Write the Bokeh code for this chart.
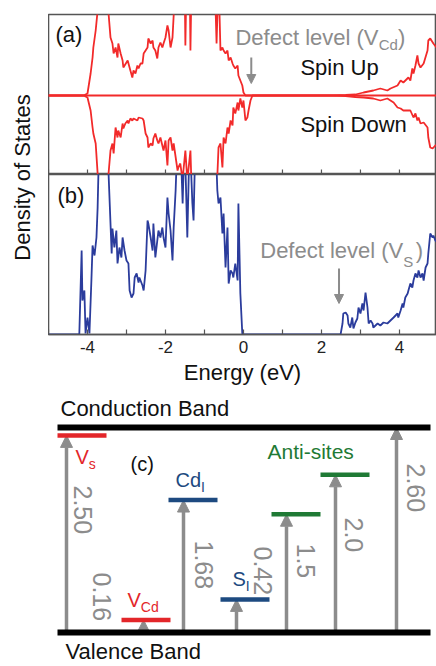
import math
from bokeh.plotting import figure
from bokeh.layouts import column, row
from bokeh.models import Range1d, Span, Arrow, NormalHead, FixedTicker, ColumnDataSource
from bokeh.core.properties import value
from bokeh.embed import file_html
from bokeh.resources import INLINE

FONT = value("Liberation Sans")
RED = "#f22a2a"
BLUE = "#2b3c9c"
FRAME = "#555555"
GRAY = "#8c8c8c"
LVL_RED = "#e3262a"
LVL_NAVY = "#1d4a80"
LVL_GREEN = "#1f7a35"

# ---------------- (a) spin-resolved DOS with a Cd vacancy ----------------
energy_up = [
    -5.0, -4.08, -4.05, -4.0, -3.92, -3.87, -3.85, -3.79, -3.74, -3.67,
    -3.54, -3.46, -3.41, -3.36, -3.33, -3.28, -3.23, -3.21, -3.15, -3.10,
    -3.08, -2.97, -2.90, -2.85, -2.82, -2.77, -2.72, -2.69, -2.64, -2.59,
    -2.56, -2.46, -2.44, -2.38, -2.33, -2.31, -2.26, -2.21, -2.18, -2.13,
    -2.08, -2.05, -2.00, -1.95, -1.92, -1.87, -1.82, -1.79, -1.74, -1.51,
    -1.49, -1.46, -1.38, -1.36, -1.33, -0.74, -0.69, -0.64, -0.59, -0.54,
    -0.51, -0.46, -0.41, -0.38, -0.33, -0.28, -0.26, -0.21, -0.15, -0.13,
    -0.08, -0.03, 0.0, 0.05, 2.31, 2.62, 2.87, 3.08, 3.33, 3.51,
    3.69, 3.77, 3.95, 4.03, 4.10, 4.23, 4.28, 4.33, 4.36, 4.41,
    4.46, 4.49, 4.54, 4.62, 4.72, 4.74, 4.79, 4.87, 4.95, 5.05,
]
dos_up = [
    0, 0, 0.1, 0.2, 2.2, 3.8, 4.8, 6.5, 8.5, 12,
    12, 8.2, 5.8, 5.2, 4.2, 4.8, 3.8, 5.2, 4.2, 3.5,
    2.8, 3.5, 2.5, 1.8, 2.5, 2.2, 3.0, 2.7, 3.2, 3.2,
    4.2, 4.8, 5.7, 5.2, 5.5, 4.8, 4.5, 3.7, 4.8, 5.3,
    4.8, 5.2, 5.8, 7.0, 6.5, 4.8, 5.8, 8.0, 12, 12,
    5.0, 12, 12, 4.5, 12, 12, 5.2, 12, 4.5, 4.8,
    4.5, 4.2, 4.5, 3.5, 3.8, 3.2, 3.0, 2.7, 3.0, 2.0,
    1.5, 1.0, 0.3, 0, 0, 0.05, 0.1, 0.3, 0.5, 0.7,
    0.5, 0.7, 1.0, 1.5, 1.3, 1.8, 1.5, 2.7, 2.2, 3.0,
    4.0, 3.2, 2.8, 3.2, 4.5, 5.5, 5.7, 5.2, 4.8, 4.5,
]
energy_down = [
    -5.0, -4.08, -4.05, -4.0, -3.92, -3.87, -3.85, -3.79, -3.74, -3.67,
    -3.54, -3.46, -3.41, -3.36, -3.33, -3.28, -3.23, -3.21, -3.15, -3.10,
    -3.08, -3.03, -2.97, -2.95, -2.90, -2.85, -2.82, -2.72, -2.69, -2.59,
    -2.56, -2.51, -2.46, -2.44, -2.38, -2.33, -2.31, -2.26, -2.21, -2.18,
    -2.13, -2.05, -2.00, -1.95, -1.92, -1.87, -1.82, -1.79, -1.69, -1.67,
    -1.62, -1.56, -1.54, -1.49, -1.44, -1.36, -1.31, -0.72, -0.67, -0.64,
    -0.59, -0.54, -0.51, -0.46, -0.41, -0.38, -0.33, -0.28, -0.26, -0.21,
    -0.15, -0.13, -0.08, -0.03, 0.0, 0.05, 0.10, 0.13, 0.18, 0.23,
    2.31, 2.62, 2.87, 3.08, 3.33, 3.51, 3.69, 3.85, 3.95, 4.03,
    4.10, 4.28, 4.36, 4.41, 4.46, 4.49, 4.54, 4.62, 4.72, 4.74,
    4.79, 4.85, 4.92, 5.05,
]
dos_down = [
    0, 0, -0.1, -0.2, -1.5, -3.2, -3.8, -4.8, -7.8, -12,
    -12, -7.8, -5.5, -4.8, -5.8, -3.2, -4.2, -3.5, -4.2, -2.8,
    -3.3, -2.8, -2.5, -2.8, -2.3, -2.5, -2.3, -2.5, -2.2, -2.3,
    -2.5, -3.8, -4.2, -5.2, -4.8, -5.0, -4.3, -3.8, -4.5, -4.8,
    -4.2, -5.5, -4.5, -7.0, -4.5, -4.2, -5.5, -4.8, -7.5, -7.2,
    -6.8, -8.5, -7.5, -5.5, -8.5, -5.5, -12, -12, -8.0, -5.2,
    -4.8, -7.2, -4.2, -4.8, -3.2, -3.8, -2.5, -3.0, -1.2, -1.8,
    -0.7, -1.5, -0.3, -1.2, -0.5, -2.5, -2.2, -1.5, -0.5, 0,
    0, -0.05, -0.15, -0.2, -0.3, -0.5, -0.3, -0.7, -1.2, -1.3,
    -1.5, -1.5, -2.2, -1.8, -2.5, -2.2, -2.8, -2.7, -3.2, -4.2,
    -5.2, -5.3, -5.0, -4.8,
]
vcd_defect_energy = 0.2

# ---------------- (b) DOS with an S vacancy ----------------
energy_vs = [
    -5.0, -4.21, -4.15, -4.13, -4.08, -4.05, -4.0, -3.95, -3.90, -3.87,
    -3.82, -3.77, -3.74, -3.72, -3.67, -3.51, -3.46, -3.38, -3.36, -3.31,
    -3.26, -3.23, -3.18, -3.13, -3.10, -3.05, -3.00, -2.95, -2.92, -2.87,
    -2.82, -2.79, -2.74, -2.69, -2.67, -2.59, -2.56, -2.51, -2.46, -2.44,
    -2.38, -2.33, -2.31, -2.26, -2.21, -2.18, -2.13, -2.08, -2.05, -2.00,
    -1.95, -1.92, -1.87, -1.82, -1.79, -1.74, -1.69, -1.62, -1.56, -1.51,
    -1.44, -1.38, -1.31, -1.28, -1.23, -0.72, -0.67, -0.64, -0.59, -0.54,
    -0.51, -0.46, -0.41, -0.38, -0.33, -0.28, -0.26, -0.21, -0.15, -0.13,
    -0.08, -0.03, 0.0, 2.49, 2.54, 2.56, 2.62, 2.67, 2.69, 2.74,
    2.79, 2.82, 2.87, 2.92, 2.95, 3.00, 3.05, 3.08, 3.13, 3.18,
    3.21, 3.26, 3.31, 3.33, 3.44, 3.51, 3.59, 3.69, 3.77, 3.85,
    3.95, 3.97, 4.03, 4.08, 4.10, 4.15, 4.21, 4.23, 4.28, 4.33,
    4.36, 4.41, 4.46, 4.49, 4.54, 4.59, 4.62, 4.67, 4.72, 4.74,
    4.79, 4.85, 4.87, 4.92, 5.05,
]
dos_vs = [
    0, 0, 8.4, 3.4, 4.4, 0.1, 1.7, 0.1, 5.4, 8.9,
    7.9, 9.7, 12.7, 16.1, 20, 20, 16.1, 8.1, 10.6, 8.7,
    10.4, 7.1, 8.7, 7.7, 9.7, 8.4, 7.4, 7.1, 4.4, 3.7,
    4.1, 5.7, 6.1, 5.2, 5.7, 4.9, 4.4, 6.4, 11.4, 11.1,
    9.7, 8.4, 11.1, 7.7, 9.4, 10.4, 9.7, 10.7, 9.7, 8.7,
    13.7, 12.1, 10.4, 7.4, 10.7, 14.4, 20, 20, 13.1, 20,
    9.7, 20, 13.1, 11.4, 20, 20, 14.4, 13.1, 13.7, 10.1,
    12.1, 6.7, 10.7, 5.1, 6.4, 6.1, 5.7, 7.1, 5.4, 13.1,
    4.1, 0.1, 0, 0, 1.1, 2.1, 2.2, 1.9, 1.1, 0.7,
    1.7, 0.6, 1.2, 1.6, 2.7, 2.1, 3.1, 2.4, 4.2, 2.7,
    1.1, 1.4, 1.1, 0.7, 1.1, 0.9, 1.2, 1.1, 1.4, 1.7,
    2.1, 1.7, 2.4, 3.1, 2.7, 3.7, 4.1, 4.4, 5.1, 4.7,
    5.4, 6.1, 5.7, 6.4, 5.7, 6.1, 5.4, 6.7, 7.1, 8.1,
    10.1, 9.7, 9.9, 9.4, 9.0,
]
vs_defect_energy = 2.45

major_ticks = [-4, -2, 0, 2, 4]
minor_ticks = [-5, -3, -1, 1, 3, 5]

# ---------------- (c) defect levels above the valence band (eV) ----------------
band_gap = 2.60
defect_names = ["V", "V", "Cd", "S", "", ""]
defect_subs = ["s", "Cd", "I", "I", "", ""]
defect_levels = [2.50, 0.16, 1.68, 0.42, 1.5, 2.0]
defect_colors = [LVL_RED, LVL_RED, LVL_NAVY, LVL_NAVY, LVL_GREEN, LVL_GREEN]
level_labels = ["2.50", "0.16", "1.68", "0.42", "1.5", "2.0"]


def energy_axis(ax):
    ax.ticker = FixedTicker(ticks=major_ticks, minor_ticks=minor_ticks)
    ax.axis_line_color = FRAME
    ax.axis_line_width = 1.6
    ax.major_tick_in = 5
    ax.major_tick_out = 0
    ax.minor_tick_in = 5
    ax.minor_tick_out = 0
    ax.major_tick_line_color = FRAME
    ax.minor_tick_line_color = FRAME
    ax.major_tick_line_width = 1.2
    ax.minor_tick_line_width = 1.2
    ax.major_label_overrides = {t: str(t) for t in major_ticks}
    ax.major_label_text_font = "Liberation Sans"
    ax.major_label_text_font_size = "17px"
    ax.major_label_text_color = "#222222"
    ax.major_label_standoff = 6
    ax.axis_label = "Energy (eV)"
    ax.axis_label_text_font = "Liberation Sans"
    ax.axis_label_text_font_size = "22px"
    ax.axis_label_text_font_style = "normal"
    ax.axis_label_text_color = "#111111"
    ax.axis_label_standoff = 4


def txt(p, x, y, s, color, size, align="left", angle=0.0):
    p.text(x=[x], y=[y], text=[s], text_color=color, text_font=FONT,
           text_font_size=size, text_align=align, text_baseline="middle", angle=angle)


# panel (a): spin up above, spin down mirrored below the zero line
pa = figure(width=388, height=174, x_range=Range1d(-5, 4.95), y_range=Range1d(-7.9, 8.1),
            output_backend="svg", toolbar_location=None, x_axis_location=None,
            y_axis_location=None, min_border_left=0, min_border_right=0,
            min_border_top=14, min_border_bottom=0)
pa.grid.visible = False
pa.outline_line_color = FRAME
pa.outline_line_width = 1.6
# inward tick marks along the shared energy edge
tick_pos = major_ticks + minor_ticks
pa.segment(x0=tick_pos, x1=tick_pos, y0=[pa.y_range.start] * len(tick_pos),
           y1=[pa.y_range.start + 0.5] * len(tick_pos), line_color=FRAME, line_width=1.2)
pa.add_layout(Span(location=0, dimension="width", line_color=RED, line_width=1.8))
pa.line(energy_up, dos_up, line_color=RED, line_width=1.8)
pa.line(energy_down, dos_down, line_color=RED, line_width=1.8)
txt(pa, -4.82, 6.1, "(a)", "#111111", "22px")
txt(pa, -0.205, 5.8, "Defect level (V", GRAY, "22px")
txt(pa, 3.47, 5.1, "Cd", GRAY, "15px")
txt(pa, 3.96, 5.8, ")", GRAY, "22px")
txt(pa, 1.46, 2.8, "Spin Up", "#111111", "22px")
txt(pa, 1.46, -2.9, "Spin Down", "#111111", "22px")
pa.add_layout(Arrow(end=NormalHead(size=9, fill_color=GRAY, line_color=GRAY),
                    x_start=vcd_defect_energy, y_start=3.8, x_end=vcd_defect_energy, y_end=1.2,
                    line_color=GRAY, line_width=2))

# panel (b)
pb = figure(width=388, height=221, x_range=Range1d(-5, 4.95), y_range=Range1d(0, 16),
            output_backend="svg", toolbar_location=None, y_axis_location=None,
            min_border_left=0, min_border_right=0, min_border_top=0, min_border_bottom=61)
pb.grid.visible = False
pb.outline_line_color = FRAME
pb.outline_line_width = 1.6
energy_axis(pb.xaxis[0])
pb.line(energy_vs, dos_vs, line_color=BLUE, line_width=1.8)
txt(pb, -4.77, 13.9, "(b)", "#111111", "22px")
txt(pb, 0.43, 8.4, "Defect level (V", GRAY, "22px")
txt(pb, 4.1, 7.3, "S", GRAY, "15px")
txt(pb, 4.42, 8.4, ")", GRAY, "22px")
pb.add_layout(Arrow(end=NormalHead(size=9, fill_color=GRAY, line_color=GRAY),
                    x_start=vs_defect_energy, y_start=6.6, x_end=vs_defect_energy, y_end=3.1,
                    line_color=GRAY, line_width=2))

# shared y-axis title
pl = figure(width=48, height=395, x_range=Range1d(0, 48), y_range=Range1d(0, 395),
            output_backend="svg", toolbar_location=None, min_border=0,
            x_axis_location=None, y_axis_location=None, outline_line_color=None)
pl.grid.visible = False
txt(pl, 22, 218, "Density of States", "#111111", "22px", align="center", angle=math.pi / 2)

# panel (c): level diagram, y in eV above the valence band
S = 205 / band_gap          # pixels per eV
VB = 632                    # pixel row of the valence band


def py(ypx):
    return (VB - ypx) / S


pc = figure(width=436, height=271, x_range=Range1d(0, 436), y_range=Range1d(py(666), py(395)),
            output_backend="svg", toolbar_location=None, min_border=0,
            x_axis_location=None, y_axis_location=None, outline_line_color=None)
pc.grid.visible = False

bar_left = [57, 121, 168, 220, 271, 320]
arrow_x = [66, 143, 183, 236, 286, 335]
gap_arrow_x = 396

arrows = ColumnDataSource(dict(x=arrow_x + [gap_arrow_x], y0=[0.0] * 7,
                               y1=defect_levels + [band_gap]))
pc.add_layout(Arrow(end=NormalHead(size=12, fill_color=GRAY, line_color=GRAY, line_width=1),
                    x_start="x", y_start="y0", x_end="x", y_end="y1", source=arrows,
                    line_color=GRAY, line_width=3.5, level="underlay"))

pc.segment(x0=[57, 57], x1=[430, 430], y0=[0, band_gap], y1=[0, band_gap],
           line_color="black", line_width=6)
pc.segment(x0=bar_left, x1=[b + 49 for b in bar_left], y0=defect_levels, y1=defect_levels,
           line_color=defect_colors, line_width=4.5)

txt(pc, 60, py(408), "Conduction Band", "#111111", "22px")
txt(pc, 65, py(651), "Valence Band", "#111111", "22px")
txt(pc, 130, py(463), "(c)", "#111111", "20px")

# defect names with subscripts
name_w = {"V": 13.3, "Cd": 25.6, "S": 13.3}
name_x = [75, 127, 175, 232]
name_dy = [22, -20, -20, -20]     # label centre relative to the level, px (down positive)
for i in range(4):
    lvl_px = VB - defect_levels[i] * S
    cy = lvl_px + name_dy[i]
    txt(pc, name_x[i], py(cy), defect_names[i], defect_colors[i], "20px")
    txt(pc, name_x[i] + name_w[defect_names[i]], py(cy + 7), defect_subs[i], defect_colors[i], "14px")
txt(pc, 267, py(VB - defect_levels[5] * S - 23), "Anti-sites", LVL_GREEN, "21px")

# rotated energy values
num_x = [82, 101, 203, 262, 305, 353]
num_top = [485, 572, 540, 546, 543, 517]
for i in range(6):
    txt(pc, num_x[i], py(num_top[i]), level_labels[i], GRAY, "25px", angle=-math.pi / 2)
txt(pc, 415, py(463), f"{band_gap:.2f}", GRAY, "25px", angle=-math.pi / 2)

layout = column(row(pl, column(pa, pb)), pc)
open("out.html", "w").write(file_html(layout, INLINE))
